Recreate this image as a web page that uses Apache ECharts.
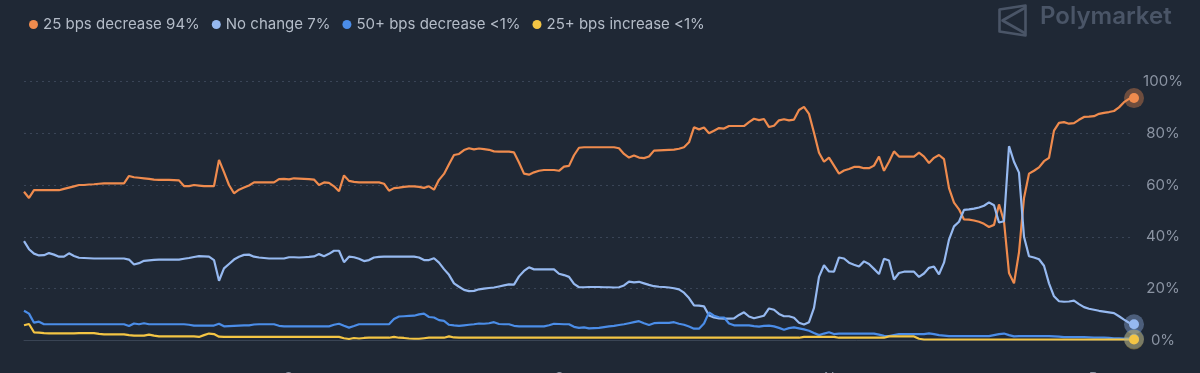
<!DOCTYPE html>
<html>
<head>
<meta charset="utf-8">
<script src="https://cdn.jsdelivr.net/npm/echarts@6.0.0/dist/echarts.min.js"></script>
<style>
html,body{margin:0;padding:0;background:#1f2835;}
#chart{width:1200px;height:373px;}
</style>
</head>
<body>
<div id="chart"></div>
<script>
// ---- data (percent), evenly spaced samples across the time range ----
const seriesNames = ['25 bps decrease 94%', 'No change 7%', '50+ bps decrease <1%', '25+ bps increase <1%'];

const cut25 = [
57.4,55,58,58,58,58,58,58,58.5,59,
59.5,60,60,60.2,60.3,60.5,60.6,60.6,60.6,60.6,
60.6,63.5,63,62.8,62.6,62.4,62.1,62,62,62,
61.9,61.8,59.6,59.6,60,59.8,59.6,59.6,59.6,69.7,
65,60,56.8,58.2,59,59.8,61,61,61,61,
61,62.3,62.4,62.2,62.6,62.5,62.4,62.3,62.1,60,
61,60.8,59.5,57.6,63.7,61.6,61.2,61,61,61,
61,61,60.5,57.8,58.8,59,59.3,59.5,59.5,59.3,
58.9,59.5,58.2,62,64.3,68,71.6,72,73.5,74.2,
73.8,74.1,73.9,73.6,73,72.9,72.9,72.9,72.6,68.7,
64.4,64,64.9,65.5,65.8,65.8,65.8,65.5,67.1,67.4,
71.5,74.4,74.6,74.6,74.6,74.6,74.6,74.6,74.6,74.2,
72,70.6,71.4,70.6,70.4,71,73.3,73.4,73.5,73.6,
73.7,74,74.6,76.5,82.3,81.5,82.2,80,81,82,
81.8,82.8,82.8,82.8,82.8,84.3,85.6,85.1,85.5,82.4,
82.9,85,85.4,85,85.3,89,90.2,87.5,80.2,72.5,
69,70.6,67.5,64.4,65.6,66.2,67,67,66.5,66.5,
67.5,71,65.5,69,73,71,71,71,71,72.5,
71,68.5,70.5,71.6,70,58.8,53.2,50.6,46.7,46.6,
46.3,45.8,45,43.8,44.6,52.5,46,26,22,34,
55,64.4,65.5,66.8,69.2,70.5,81,84,84.3,83.7,
83.9,85.2,86.3,86.4,86.6,87.5,87.9,88.2,88.6,90,
92,93.3,93.6
];

const noChange = [
38.3,35.2,33.5,32.8,32.9,33.7,33.1,32.3,32.3,33.6,
32.6,31.9,31.8,31.7,31.6,31.6,31.6,31.6,31.6,31.6,
31.6,31.2,29.3,29.8,30.7,30.9,31.1,31.2,31.2,31.2,
31.2,31.2,31.5,31.8,32.2,32.5,32.4,32.3,31,23,
27.8,29.5,31.2,32.3,33,33.1,32.3,32,31.8,31.6,
31.6,31.6,31.6,32.1,32.1,32,32.1,32.2,32.4,33.3,
32.5,33.4,34.6,34.6,30.2,32.3,32.1,31.5,30.6,31,
32,32.2,32.3,32.3,32.3,32.3,32.3,32.3,32.3,32,
31,31,31.7,30,27.5,25.3,22,20.7,19.5,19,
19.1,19.7,20,20.2,20.4,20.8,21.2,21.6,21.5,24.7,
26.8,28.2,27.4,27.4,27.4,27.4,27.4,25.7,25.2,24.5,
21.8,20.5,20.5,20.6,20.6,20.6,20.5,20.5,20.4,20.5,
21.2,22.7,22.4,22.6,22,21.4,20.9,20.7,20.6,20.4,
20.1,19.7,18.4,16.3,13.5,13.4,13.1,9.6,8.8,8.5,
8.4,8.4,8.5,9.8,10.8,9.2,8.5,9,9.5,12.3,
11.8,10.2,9.3,9.3,8.7,6.8,6.1,7,12.5,24.5,
29,26.6,26.5,32,31.6,30,29.2,28.5,30.5,29.5,
27.6,25.6,31.5,30.8,23.5,26,26.5,26.5,26.5,24.5,
25.8,28,28.5,25.5,30,38.9,44,45.8,50.4,50.6,
50.9,51.3,52,53.3,52.2,45.5,46,75,69,64.8,
40,32.5,32,31.3,28.8,22,17,15.1,14.9,15,
15.3,14,12.8,12.2,11.8,11.4,11.1,10.8,10.5,9.3,
8,6.8,6.2
];

const cut50 = [
11.4,10.3,6.8,7.2,6.2,6.2,6.2,6.2,6.2,6.2,
6.2,6.2,6.2,6.2,6.2,6.2,6.2,6.2,6.2,6.2,
6.2,5.5,6.5,6.2,6.6,6.2,6.2,6.2,6.2,6.2,
6.2,6.2,6.2,6,5.7,5.7,5.7,5.7,5.7,6.4,
5.4,5.5,5.6,5.7,5.8,5.8,6.1,6.2,6.2,6.2,
6.2,5.6,5.4,5.4,5.4,5.4,5.4,5.4,5.4,5.4,
5.4,5.4,6,6.4,5.6,4.9,5.5,6.2,6.2,6.2,
6.2,6.2,6.2,6.2,8.2,9.2,9.3,9.4,9.5,10,
10.3,9,8.8,7.8,7.5,6,5.8,5.6,5.8,6,
6.2,6.5,6.4,6.6,7,6.3,6.2,6.2,5.6,5.4,
5.4,5.4,5.4,5.4,5.4,5.8,6.4,6.3,6.2,6.2,
5.2,4.8,5,4.6,4.7,4.8,5.1,5.4,5.6,5.9,
6.2,6.6,7,7.4,6.6,5.9,6.6,6.7,6.7,6.7,
7,6.4,6,5.3,4.5,4.5,6.5,10.8,9.5,8.9,
8.8,6.5,5.8,5.8,5.8,5.8,5.5,5.3,5.6,5.7,
5.4,4.8,4.1,4.7,5,4.6,4.2,3.7,2.8,2,
2.6,3.1,2.4,2.6,2.6,2.6,2.6,2.6,2.6,2.6,
2.6,2.2,1.7,1.6,2,2.4,2.4,2.4,2.4,2.4,
2.4,2.7,2.4,2,1.8,1.6,1.6,1.6,1.6,1.6,
1.6,1.6,1.6,1.6,2,2.4,2.6,2,1.5,1.6,
1.6,1.6,1.6,1.6,1.6,1.6,1.5,1.4,1.2,1.2,
1.2,1.2,1.2,1.1,1,1,1,0.9,0.8,0.8,
0.7,0.7,0.6
];

const hike25 = [
5.8,6.3,3.1,3,2.8,2.7,2.7,2.7,2.7,2.7,
2.7,2.8,2.8,2.8,2.8,2.5,2.3,2.3,2.3,2.3,
2.3,2,1.8,1.8,1.8,2.2,1.8,1.5,1.5,1.5,
1.5,1.5,1.5,1.5,1.5,1.3,2,2.6,2.4,1.4,
1.3,1.3,1.3,1.3,1.3,1.3,1.3,1.3,1.3,1.3,
1.3,1.3,1.3,1.3,1.3,1.3,1.3,1.3,1.3,1.3,
1.3,1.3,1.3,1.3,0.8,0.5,0.9,0.7,0.9,1,
1,1,1,1,1.3,1,0.9,0.7,0.6,0.6,
0.8,1,1,1,1,1.5,1.1,1,1,1,
1,1,1,1,1,1,1,1,1,1,
1,1,1,1,1,1,1,1,1,1,
1,1,1,1,1,1,1,1,1,1,
1,1,1,1,1,1,1,1,1,1,
1,1,1,1,1,1,1,1,1,1,
1,1,1,1,1,1,1,1,1,1,
1,1,1,1,1,1,1.3,1.3,1.3,1.3,
1.3,1.3,1.3,1,1,1,1,1,1,1,
1,1,1,1.5,1.5,1.5,1.5,1.5,1.5,0.6,
0.3,0.3,0.3,0.3,0.3,0.3,0.3,0.3,0.3,0.3,
0.3,0.3,0.3,0.3,0.3,0.3,0.3,0.3,0.3,0.3,
0.3,0.3,0.3,0.3,0.3,0.3,0.3,0.3,0.3,0.3,
0.3,0.3,0.3,0.3,0.3,0.3,0.3,0.3,0.3,0.3,
0.3,0.3,0.3
];

// month tick labels and the sample index where each month starts
const monthLabels = ['Sep', 'Oct', 'Nov', 'Dec'];
const monthStartIndex = [52, 106, 160, 213];
const yTicks = [0, 20, 40, 60, 80, 100];

// ---- styles ----
const colors = ['#ef8b4e', '#96b9f0', '#4b8de8', '#f4c544'];
const halos = ['rgba(239,139,78,0.38)', 'rgba(150,185,240,0.38)', 'rgba(75,141,232,0.38)', 'rgba(244,197,68,0.38)'];
const FONT = 'Inter, "Noto Sans", sans-serif';

const categories = cut25.map((_, i) => 'p' + i);
const allSeries = [cut25, noChange, cut50, hike25];

const chart = echarts.init(document.getElementById('chart'), null, {renderer: 'canvas'});

const series = allSeries.map((data, k) => {
  const last = data.length - 1;
  return {
    name: seriesNames[k],
    type: 'line',
    data: data,
    showSymbol: false,
    symbol: 'circle',
    lineStyle: {width: 2.2, color: colors[k]},
    itemStyle: {color: colors[k]},
    emphasis: {disabled: true},
    animation: false,
    markPoint: {
      silent: true,
      animation: false,
      label: {show: false},
      data: [
        {coord: [last, data[last]], symbol: 'circle', symbolSize: 20, itemStyle: {color: halos[k]}},
        {coord: [last, data[last]], symbol: 'circle', symbolSize: 10, itemStyle: {color: colors[k]}}
      ]
    }
  };
});

chart.setOption({
  backgroundColor: '#1f2835',
  animation: false,
  textStyle: {fontFamily: FONT},
  legend: {
    left: 24,
    top: 12,
    icon: 'circle',
    itemWidth: 9,
    itemHeight: 9,
    itemGap: 12,
    selectedMode: false,
    textStyle: {color: '#b4bcc8', fontSize: 15, fontFamily: FONT},
    data: seriesNames
  },
  grid: {left: 24, right: 66, top: 81.5, bottom: 32.7, containLabel: false, outerBoundsMode: 'none'},
  xAxis: {
    type: 'category',
    data: categories,
    boundaryGap: false,
    offset: 15,
    axisLine: {show: true, lineStyle: {color: '#394454', width: 1}},
    axisTick: {show: false},
    splitLine: {show: false},
    axisLabel: {
      color: '#8b94a3',
      fontSize: 14,
      fontFamily: FONT,
      align: 'left',
      verticalAlign: 'top',
      margin: 16,
      hideOverlap: false,
      interval: (idx) => monthStartIndex.indexOf(idx) >= 0,
      formatter: (v, idx) => {
        const j = monthStartIndex.indexOf(idx);
        return j >= 0 ? monthLabels[j] : '';
      }
    }
  },
  yAxis: {
    type: 'value',
    position: 'right',
    min: yTicks[0],
    max: yTicks[yTicks.length - 1],
    interval: 20,
    axisLine: {show: false},
    axisTick: {show: false},
    splitLine: {show: true, lineStyle: {color: '#3a4557', type: [2, 4], width: 1}},
    axisLabel: {
      color: '#8b94a3',
      fontSize: 15,
      fontFamily: FONT,
      align: 'center',
      margin: 29,
      formatter: '{value}%'
    }
  },
  graphic: [
    {
      type: 'group',
      left: 997,
      top: 3,
      children: [
        {type: 'polygon', shape: {points: [[2, 5], [28, 1], [28, 31], [2, 27]]},
          style: {fill: 'none', stroke: '#4a5567', lineWidth: 2.6, lineJoin: 'round'}},
        {type: 'polyline', shape: {points: [[28, 3], [5, 16], [28, 29]]},
          style: {fill: 'none', stroke: '#4a5567', lineWidth: 2.6, lineJoin: 'round'}}
      ]
    },
    {
      type: 'text',
      left: 1040,
      top: 5,
      style: {text: 'Polymarket', fill: '#4a5567', fontSize: 24, fontWeight: 600, fontFamily: FONT}
    }
  ],
  series: series
});
</script>
</body>
</html>
